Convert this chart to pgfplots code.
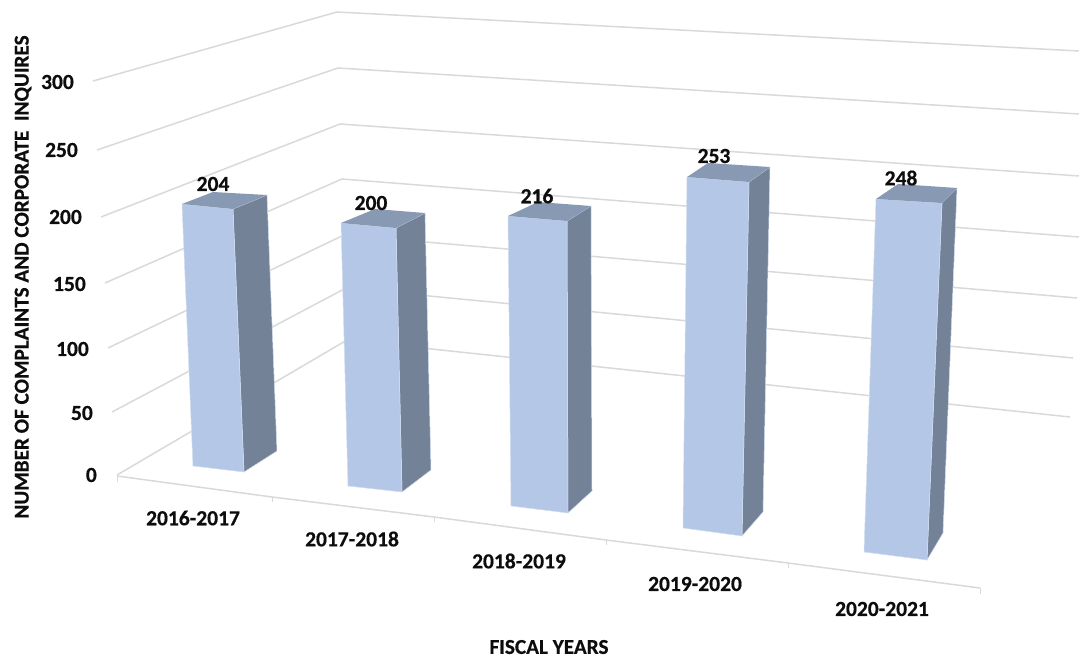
\documentclass[border=0pt]{standalone}
\usepackage{pgfplots}
\pgfplotsset{compat=1.18}
\usepackage{fontspec}
\setmainfont[BoldFeatures={FakeBold=0.5}]{Carlito}
\definecolor{fr}{HTML}{B4C7E7}
\definecolor{tp}{HTML}{8899B3}
\definecolor{sd}{HTML}{748298}
\definecolor{ed}{HTML}{D3DEF0}
\definecolor{gr}{HTML}{D9D9D9}
\definecolor{tx}{HTML}{0D0D0D}
\newcommand{\lab}{\fontsize{21.5}{24}\selectfont\bfseries\color{tx}}
\newcommand{\ttl}{\fontsize{21.2}{24}\selectfont\bfseries\color{tx}}
\begin{document}
\begin{tikzpicture}
\begin{axis}[
  width=1079pt,height=658pt,scale only axis,
  xmin=0,xmax=1079,ymin=0,ymax=658,y dir=reverse,
  axis lines=none,clip=true,
  every axis plot/.append style={no marks}]
\path (rel axis cs:0,0) rectangle (rel axis cs:1,1);
% gridlines: left end, back corner, right end (values 300 ... 0)
\addplot[gr,line width=1.5pt] coordinates {(93,81)(337,12)(1079,51)};
\addplot[gr,line width=1.5pt] coordinates {(97,150)(338,68)(1079,114)};
\addplot[gr,line width=1.5pt] coordinates {(101,217)(340,124)(1079,176)};
\addplot[gr,line width=1.5pt] coordinates {(105,283)(342,179)(1079,237)};
\addplot[gr,line width=1.5pt] coordinates {(108,348)(344,235)(1077,298)};
\addplot[gr,line width=1.5pt] coordinates {(112,412)(346,288)(1073,358)};
\addplot[gr,line width=1.5pt] coordinates {(117,475)(347,340)(1070,417)};
% front floor edge and ticks
\addplot[gr,line width=1.5pt] coordinates {(117,476)(272,497)(434,517)(606,540)(788,563)(980,588)};
\addplot[gr,line width=1pt] coordinates {(117,476)(117,482)};
\addplot[gr,line width=1pt] coordinates {(272,497)(272,502)};
\addplot[gr,line width=1pt] coordinates {(434,517)(434,522)};
\addplot[gr,line width=1pt] coordinates {(606,540)(606,545)};
\addplot[gr,line width=1pt] coordinates {(788,563)(788,568)};
\addplot[gr,line width=1pt] coordinates {(980,588)(980,594)};
% bar 2016-2017 = 204
\addplot[fill=sd,draw=ed,line width=.5pt] coordinates {(233,209)(244,472)(277,451)(267,195)} --cycle;
\addplot[fill=fr,draw=ed,line width=.5pt] coordinates {(182,204)(233,209)(244,472)(193,466)} --cycle;
\addplot[fill=tp,draw=none] coordinates {(182,204)(233,209)(267,195)(213,192)} --cycle;
% bar 2017-2018 = 200
\addplot[fill=sd,draw=ed,line width=.5pt] coordinates {(396,228)(402,492)(431,470)(425,213)} --cycle;
\addplot[fill=fr,draw=ed,line width=.5pt] coordinates {(341,223)(396,228)(402,492)(348,486)} --cycle;
\addplot[fill=tp,draw=none] coordinates {(341,223)(396,228)(425,213)(375,209)} --cycle;
% bar 2018-2019 = 216
\addplot[fill=sd,draw=ed,line width=.5pt] coordinates {(567,221)(568,513)(592,491)(591,206)} --cycle;
\addplot[fill=fr,draw=ed,line width=.5pt] coordinates {(508,216)(567,221)(568,513)(511,506)} --cycle;
\addplot[fill=tp,draw=none] coordinates {(508,216)(567,221)(591,206)(538,202)} --cycle;
% bar 2019-2020 = 253
\addplot[fill=sd,draw=ed,line width=.5pt] coordinates {(749,182)(742,536)(763,512)(770,167)} --cycle;
\addplot[fill=fr,draw=ed,line width=.5pt] coordinates {(687,177)(749,182)(742,536)(683,528)} --cycle;
\addplot[fill=tp,draw=none] coordinates {(687,177)(749,182)(770,167)(708,163)} --cycle;
% bar 2020-2021 = 248
\addplot[fill=sd,draw=ed,line width=.5pt] coordinates {(942,203)(927,560)(943,533)(957,188)} --cycle;
\addplot[fill=fr,draw=ed,line width=.5pt] coordinates {(876,199)(942,203)(927,560)(864,552)} --cycle;
\addplot[fill=tp,draw=none] coordinates {(876,199)(942,203)(957,188)(898,184)} --cycle;
% value labels
\node[font=\lab,anchor=center] at (axis cs:213,184) {204};
\node[font=\lab,anchor=center] at (axis cs:371,203) {200};
\node[font=\lab,anchor=center] at (axis cs:537,196) {216};
\node[font=\lab,anchor=center] at (axis cs:714,156) {253};
\node[font=\lab,anchor=center] at (axis cs:901,178) {248};
% value-axis tick labels
\node[font=\lab,anchor=east,inner sep=0pt] at (axis cs:74,82) {300};
\node[font=\lab,anchor=east,inner sep=0pt] at (axis cs:78,150) {250};
\node[font=\lab,anchor=east,inner sep=0pt] at (axis cs:82,217) {200};
\node[font=\lab,anchor=east,inner sep=0pt] at (axis cs:86,284) {150};
\node[font=\lab,anchor=east,inner sep=0pt] at (axis cs:89,349) {100};
\node[font=\lab,anchor=east,inner sep=0pt] at (axis cs:93,413) {50};
\node[font=\lab,anchor=east,inner sep=0pt] at (axis cs:97,475) {0};
% category labels
\node[font=\lab,anchor=center] at (axis cs:193,518) {2016-2017};
\node[font=\lab,anchor=center] at (axis cs:352,539) {2017-2018};
\node[font=\lab,anchor=center] at (axis cs:519,561) {2018-2019};
\node[font=\lab,anchor=center] at (axis cs:695,584) {2019-2020};
\node[font=\lab,anchor=center] at (axis cs:882,609) {2020-2021};
% axis titles
\node[font=\ttl,anchor=center] at (axis cs:549,647) {FISCAL YEARS};
\node[font=\ttl,anchor=center,rotate=90] at (axis cs:23,277) {NUMBER OF COMPLAINTS AND CORPORATE~~INQUIRES};
\end{axis}
\end{tikzpicture}
\end{document}
